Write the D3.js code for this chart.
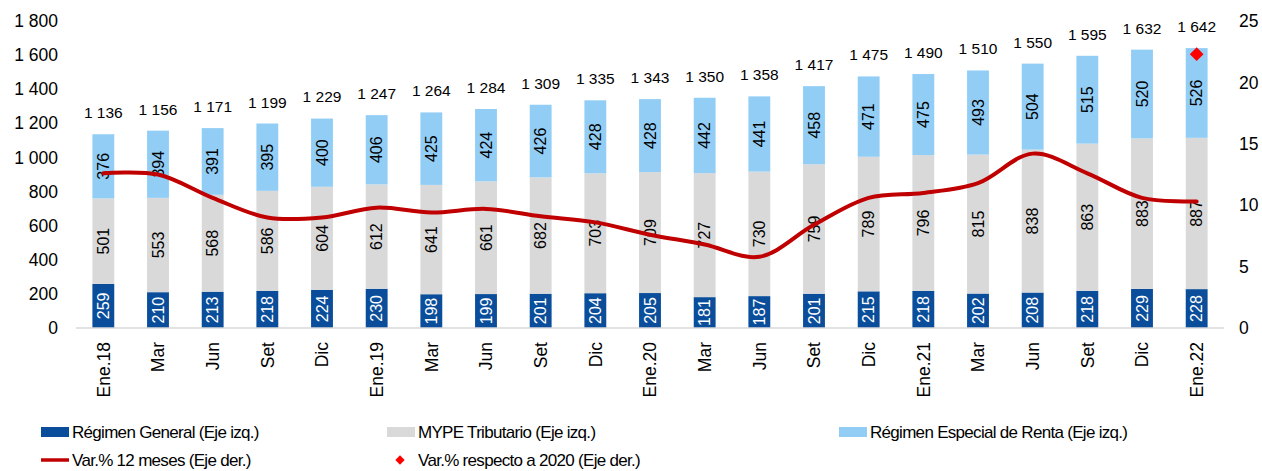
<!DOCTYPE html>
<html>
<head>
<meta charset="utf-8">
<script src="https://cdn.jsdelivr.net/npm/d3@7"></script>
<style>
  body { margin: 0; background: #fff; }
  svg { font-family: "Liberation Sans", Arial, sans-serif; }
</style>
</head>
<body>
<svg id="chart" width="1262" height="471"></svg>
<script>
// data
var categories = ["Ene.18","Mar","Jun","Set","Dic","Ene.19","Mar","Jun","Set","Dic","Ene.20","Mar","Jun","Set","Dic","Ene.21","Mar","Jun","Set","Dic","Ene.22"];
var general  = [259,210,213,218,224,230,198,199,201,204,205,181,187,201,215,218,202,208,218,229,228];
var mype     = [501,553,568,586,604,612,641,661,682,703,709,727,730,759,789,796,815,838,863,883,887];
var especial = [376,394,391,395,400,406,425,424,426,428,428,442,441,458,471,475,493,504,515,520,526];
var totals   = [1136,1156,1171,1199,1229,1247,1264,1284,1309,1335,1343,1350,1358,1417,1475,1490,1510,1550,1595,1632,1642];
var var12    = [12.6,12.5,10.6,9.0,9.0,9.8,9.4,9.7,9.1,8.6,7.6,6.8,5.8,8.4,10.6,11.0,11.8,14.2,12.6,10.6,10.3];
var var2020  = [{cat: 20, value: 22.3}];
var leftTicks  = [0,200,400,600,800,1000,1200,1400,1600,1800];
var rightTicks = [0,5,10,15,20,25];

var svg = d3.select("#chart");
var plotL = 76, plotR = 1224, plotT = 21, plotB = 328;

var keys = ["general","mype","especial"];
var colors = { general: "#0A4E9B", mype: "#D9D9D9", especial: "#92CDF6" };
var labelColors = { general: "#fff", mype: "#000", especial: "#000" };

var rows = categories.map(function(c, i) {
    return { i: i, cat: c, general: general[i], mype: mype[i], especial: especial[i] };
});

var x = d3.scaleBand().domain(d3.range(categories.length)).range([plotL, plotR]).paddingInner(0.6).paddingOuter(0.3);
var y = d3.scaleLinear().domain([0, 1800]).range([plotB, plotT]);
var y2 = d3.scaleLinear().domain([0, 25]).range([plotB, plotT]);

var fmt = function(v) { return d3.format(",")(v).replace(/,/g, " "); };

// left axis
var yAxis = d3.axisLeft(y).tickValues(leftTicks).tickSize(0).tickPadding(0).tickFormat(fmt);
var gy = svg.append("g").attr("transform", "translate(58,0)").call(yAxis);
gy.select(".domain").remove();
gy.selectAll("text").attr("font-size", 17.5).attr("fill", "#000").attr("font-family", "Liberation Sans, Arial");

// right axis
var y2Axis = d3.axisRight(y2).tickValues(rightTicks).tickSize(0).tickPadding(0);
var gy2 = svg.append("g").attr("transform", "translate(1239,0)").call(y2Axis);
gy2.select(".domain").remove();
gy2.selectAll("text").attr("font-size", 17.5).attr("fill", "#000").attr("font-family", "Liberation Sans, Arial");

// stacked bars
var stack = d3.stack().keys(keys)(rows);
var layers = svg.selectAll(".layer").data(stack).enter().append("g").attr("class", "layer");

layers.selectAll("rect")
    .data(function(d) { return d.map(function(p) { p.key = d.key; return p; }); })
    .enter().append("rect")
    .attr("x", function(d) { return x(d.data.i); })
    .attr("y", function(d) { return y(d[1]); })
    .attr("width", x.bandwidth())
    .attr("height", function(d) { return y(d[0]) - y(d[1]); })
    .attr("fill", function(d) { return colors[d.key]; });

// baseline
svg.append("line")
    .attr("x1", plotL).attr("x2", plotR)
    .attr("y1", y(0)).attr("y2", y(0))
    .attr("stroke", "#D9D9D9").attr("stroke-width", 1.5);

// segment labels
layers.selectAll(".seg")
    .data(function(d) { return d; })
    .enter().append("text")
    .attr("transform", function(d) {
        var cx = x(d.data.i) + x.bandwidth() / 2;
        var cy = (y(d[0]) + y(d[1])) / 2;
        return "translate(" + cx + "," + cy + ") rotate(-90)";
    })
    .attr("text-anchor", "middle")
    .attr("dy", "0.36em")
    .attr("font-size", 16)
    .attr("fill", function(d) { return labelColors[d.key]; })
    .text(function(d) { return d.data[d.key]; });

// totals
svg.selectAll(".total").data(rows).enter().append("text")
    .attr("x", function(d) { return x(d.i) + x.bandwidth() / 2; })
    .attr("y", function(d) { return y(totals[d.i]) - 16; })
    .attr("text-anchor", "middle")
    .attr("font-size", 15.5)
    .attr("fill", "#000")
    .text(function(d) { return fmt(totals[d.i]); });

// 12 month line
var line = d3.line()
    .x(function(d, i) { return x(i) + x.bandwidth() / 2; })
    .y(function(d) { return y2(d); })
    .curve(d3.curveCatmullRom.alpha(0.5));

svg.append("path")
    .datum(var12)
    .attr("d", line)
    .attr("fill", "none")
    .attr("stroke", "#C00000")
    .attr("stroke-width", 4)
    .attr("stroke-linecap", "round");

// 2020 diamond
svg.selectAll(".diamond").data(var2020).enter().append("path")
    .attr("d", d3.symbol().type(d3.symbolDiamond2).size(120))
    .attr("transform", function(d) { return "translate(" + (x(d.cat) + x.bandwidth() / 2) + "," + y2(d.value) + ")"; })
    .attr("fill", "#FF0000");

// x labels
svg.selectAll(".xl").data(rows).enter().append("text")
    .attr("transform", function(d) {
        return "translate(" + (x(d.i) + x.bandwidth() / 2) + "," + 342 + ") rotate(-90)";
    })
    .attr("text-anchor", "end")
    .attr("dy", "0.36em")
    .attr("font-size", 17.5)
    .attr("fill", "#000")
    .text(function(d) { return d.cat; });

// legend
var legend = [
    { label: "Régimen General (Eje izq.)", type: "rect", color: colors.general, x: 41, y: 432 },
    { label: "MYPE Tributario (Eje izq.)", type: "rect", color: colors.mype, x: 387, y: 432 },
    { label: "Régimen Especial de Renta (Eje izq.)", type: "rect", color: colors.especial, x: 839, y: 432 },
    { label: "Var.% 12 meses (Eje der.)", type: "line", color: "#C00000", x: 41, y: 460 },
    { label: "Var.% respecto a 2020 (Eje der.)", type: "diamond", color: "#FF0000", x: 390, y: 460 }
];

var lg = svg.selectAll(".lg").data(legend).enter().append("g")
    .attr("transform", function(d) { return "translate(" + d.x + "," + d.y + ")"; });

lg.filter(function(d) { return d.type == "rect"; }).append("rect")
    .attr("x", 0).attr("y", -5).attr("width", 28).attr("height", 10)
    .attr("fill", function(d) { return d.color; });

lg.filter(function(d) { return d.type == "line"; }).append("line")
    .attr("x1", 0).attr("x2", 28).attr("y1", 0).attr("y2", 0)
    .attr("stroke", function(d) { return d.color; }).attr("stroke-width", 3.5);

lg.filter(function(d) { return d.type == "diamond"; }).append("path")
    .attr("d", d3.symbol().type(d3.symbolDiamond2).size(55))
    .attr("transform", "translate(10,0)")
    .attr("fill", function(d) { return d.color; });

lg.append("text")
    .attr("x", function(d) { return d.type == "diamond" ? 28 : 31; })
    .attr("dy", "0.36em")
    .attr("font-size", 17)
    .attr("letter-spacing", -0.7)
    .attr("fill", "#000")
    .text(function(d) { return d.label; });
</script>
</body>
</html>
